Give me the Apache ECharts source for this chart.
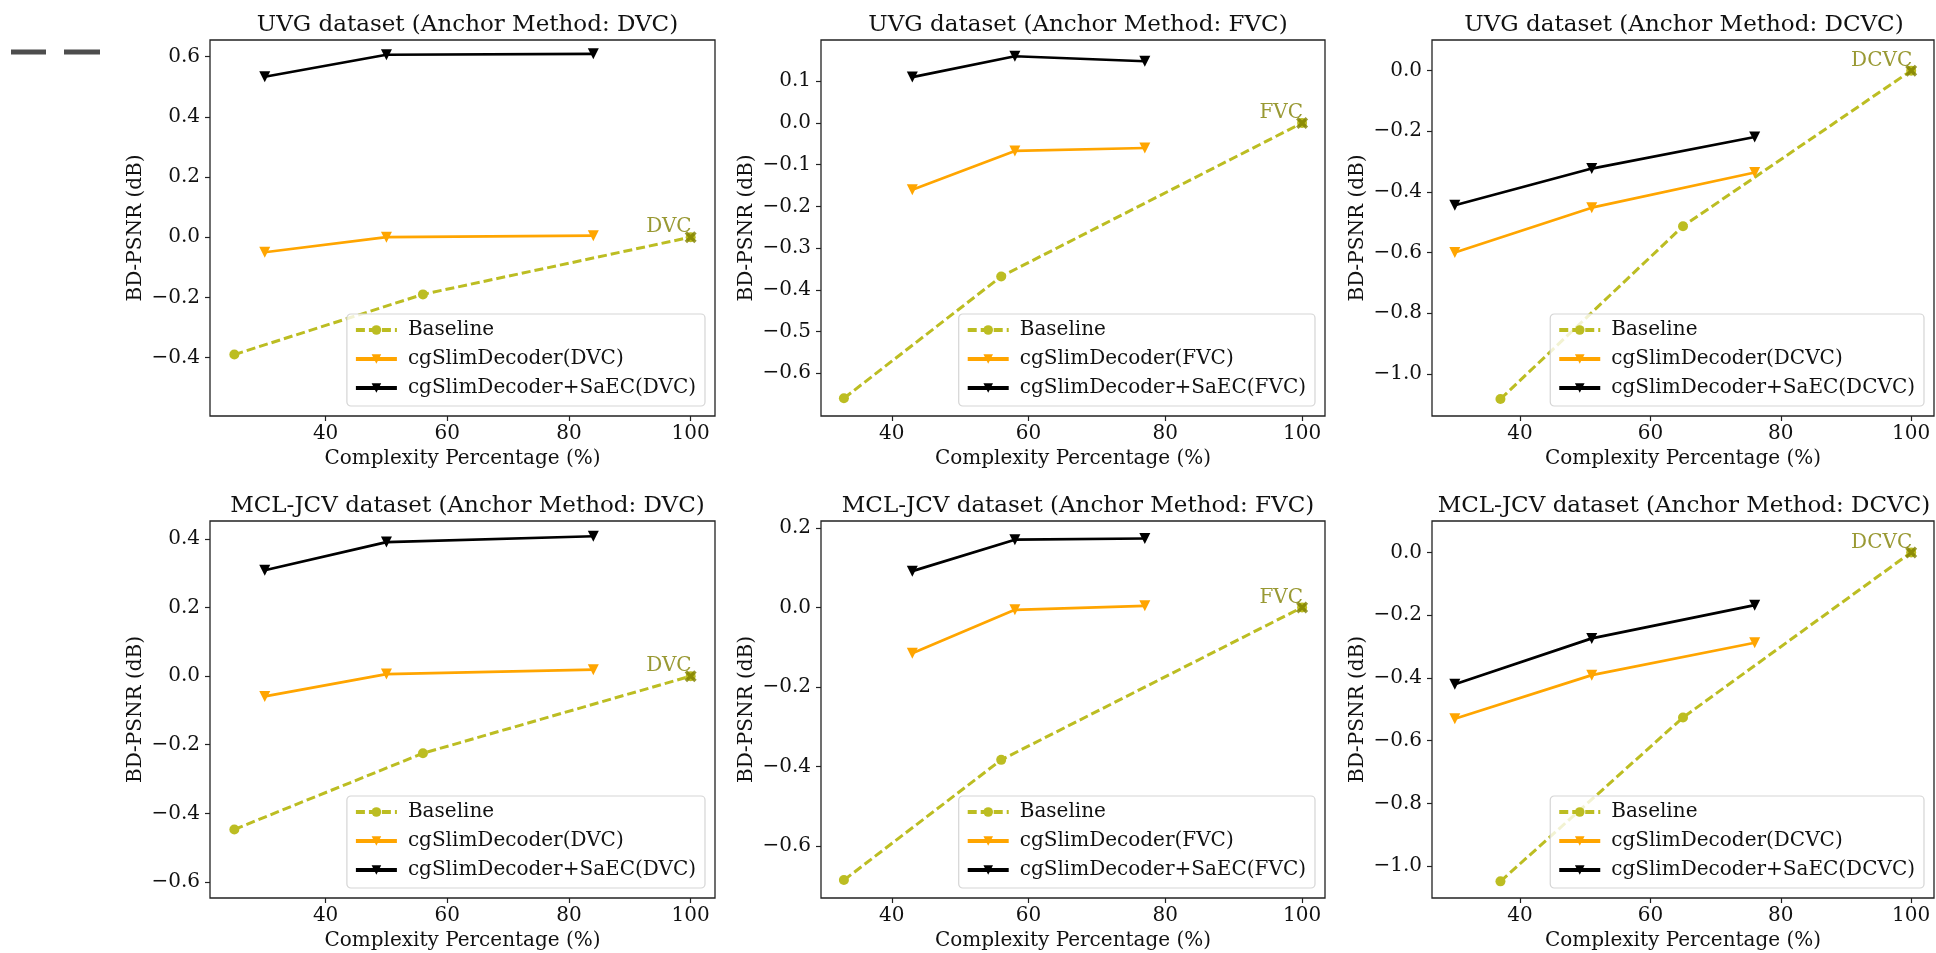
<!DOCTYPE html>
<html>
<head>
<meta charset="utf-8">
<script src="https://cdn.jsdelivr.net/npm/echarts@6/dist/echarts.min.js"></script>
<style>
  html, body { margin: 0; padding: 0; background: #fff; }
  #chart { width: 1936px; height: 953px; }
</style>
</head>
<body>
<div id="chart"></div>
<script>
// 数据：每个子图一组
const panelTitles = [
  "UVG dataset (Anchor Method: DVC)",
  "UVG dataset (Anchor Method: FVC)",
  "UVG dataset (Anchor Method: DCVC)",
  "MCL-JCV dataset (Anchor Method: DVC)",
  "MCL-JCV dataset (Anchor Method: FVC)",
  "MCL-JCV dataset (Anchor Method: DCVC)",
];
const anchorNames = ["DVC", "FVC", "DCVC", "DVC", "FVC", "DCVC"];
const baselineX = [[25, 56, 100], [33, 56, 100], [37, 65, 100], [25, 56, 100], [33, 56, 100], [37, 65, 100]];
const baselineY = [
  [-0.39, -0.19, 0],
  [-0.66, -0.368, 0],
  [-1.083, -0.513, 0],
  [-0.447, -0.225, 0],
  [-0.685, -0.383, 0],
  [-1.048, -0.526, 0],
];
const slimX = [[30, 50, 84], [43, 58, 77], [30, 51, 76], [30, 50, 84], [43, 58, 77], [30, 51, 76]];
const slimY = [
  [-0.05, 0.0, 0.005],
  [-0.16, -0.067, -0.06],
  [-0.6, -0.452, -0.336],
  [-0.059, 0.006, 0.019],
  [-0.115, -0.006, 0.004],
  [-0.53, -0.391, -0.288],
];
const saecY = [
  [0.533, 0.606, 0.609],
  [0.11, 0.16, 0.148],
  [-0.444, -0.323, -0.219],
  [0.309, 0.391, 0.408],
  [0.091, 0.17, 0.173],
  [-0.42, -0.274, -0.168],
];
const xTicks = [40, 60, 80, 100];
const yTicks = [
  [-0.4, -0.2, 0, 0.2, 0.4, 0.6],
  [-0.6, -0.5, -0.4, -0.3, -0.2, -0.1, 0, 0.1],
  [-1.0, -0.8, -0.6, -0.4, -0.2, 0],
  [-0.6, -0.4, -0.2, 0, 0.2, 0.4],
  [-0.6, -0.4, -0.2, 0, 0.2],
  [-1.0, -0.8, -0.6, -0.4, -0.2, 0],
];
const xRange = [[21, 104], [29.65, 103.35], [26.5, 103.5], [21, 104], [29.65, 103.35], [26.5, 103.5]];
const yRange = [[-0.594, 0.655], [-0.7025, 0.199], [-1.139, 0.101], [-0.647, 0.4525], [-0.73, 0.217], [-1.101, 0.1]];

// 布局
const W = 1936, H = 953;
const colLeft = [210, 821, 1432];
const colWidth = [505, 504, 502];
const rowTop = [40, 521];
const rowHeight = [376, 377];
const FONT = "DejaVu Serif";

const fmt = (v) => (v < 0 ? "\u2212" : "") + Math.abs(v).toFixed(1);
const xMark = "path://M0,2 L2,0 L5,3 L8,0 L10,2 L7,5 L10,8 L8,10 L5,7 L2,10 L0,8 L3,5 Z";

const myChart = echarts.init(document.getElementById("chart"));

const grids = [], xAxes = [], yAxes = [], titles = [], legends = [], series = [];
for (let i = 0; i < 6; i++) {
  const r = Math.floor(i / 3), c = i % 3;
  const left = colLeft[c], top = rowTop[r], w = colWidth[c], h = rowHeight[r];
  grids.push({
    left: left, top: top, width: w, height: h,
    show: true, borderColor: "#222", borderWidth: 1.3, backgroundColor: "transparent",
    containLabel: false, outerBoundsMode: "none",
  });
  titles.push({
    text: panelTitles[i],
    left: left + w / 2 - (c === 2 ? 4 : 0), textAlign: "center",
    top: top - 31,
    textStyle: { fontFamily: FONT, fontSize: 23, fontWeight: "normal", color: "#111" },
  });
  xAxes.push({
    gridIndex: i, type: "value",
    min: xRange[i][0], max: xRange[i][1],
    name: "Complexity Percentage (%)", nameLocation: "middle", nameGap: 33,
    nameTextStyle: { fontFamily: FONT, fontSize: 20, color: "#111" },
    axisLine: { show: false, onZero: false },
    splitLine: { show: false },
    axisTick: { show: true, length: 5, customValues: xTicks, lineStyle: { color: "#222", width: 1.2 } },
    axisLabel: { customValues: xTicks, margin: 8, fontFamily: FONT, fontSize: 20, color: "#111" },
  });
  yAxes.push({
    gridIndex: i, type: "value",
    min: yRange[i][0], max: yRange[i][1],
    name: "BD-PSNR (dB)", nameLocation: "middle", nameGap: 64,
    nameTextStyle: { fontFamily: FONT, fontSize: 20, color: "#111" },
    axisLine: { show: false, onZero: false },
    splitLine: { show: false },
    axisTick: { show: true, length: 5, customValues: yTicks[i], lineStyle: { color: "#222", width: 1.2 } },
    axisLabel: { customValues: yTicks[i], margin: 10, fontFamily: FONT, fontSize: 20, color: "#111", formatter: fmt },
  });

  const slimName = "cgSlimDecoder(" + anchorNames[i] + ")";
  const saecName = "cgSlimDecoder+SaEC(" + anchorNames[i] + ")";
  legends.push({
    data: ["Baseline", slimName, saecName],
    orient: "vertical",
    right: W - (left + w - 10),
    bottom: H - (top + h - 10),
    itemWidth: 41, itemHeight: 12, itemGap: 7,
    padding: [5, 9, 7, 7],
    backgroundColor: "rgba(255,255,255,0.8)",
    borderColor: "#d5d5d5", borderWidth: 1.2, borderRadius: 4,
    selectedMode: false,
    lineStyle: { width: 4 },
    textStyle: { fontFamily: FONT, fontSize: 20, color: "#111", lineHeight: 22, padding: [0, 0, 0, 6] },
  });

  series.push({
    name: "Baseline", type: "line", xAxisIndex: i, yAxisIndex: i,
    data: baselineX[i].map((x, k) => [x, baselineY[i][k]]),
    lineStyle: { color: "#bcbd22", width: 3, type: [9, 4] },
    itemStyle: { color: "#bcbd22" },
    symbol: "circle", symbolSize: 10, showAllSymbol: true,
    animation: false, z: 2,
  });
  series.push({
    name: slimName, type: "line", xAxisIndex: i, yAxisIndex: i,
    data: slimX[i].map((x, k) => [x, slimY[i][k]]),
    lineStyle: { color: "#ffa500", width: 2.7 },
    itemStyle: { color: "#ffa500" },
    symbol: "triangle", symbolRotate: 180, symbolSize: 11,
    animation: false, z: 3,
  });
  series.push({
    name: saecName, type: "line", xAxisIndex: i, yAxisIndex: i,
    data: slimX[i].map((x, k) => [x, saecY[i][k]]),
    lineStyle: { color: "#000", width: 2.7 },
    itemStyle: { color: "#000" },
    symbol: "triangle", symbolRotate: 180, symbolSize: 11,
    animation: false, z: 3,
  });
  // 锚点 (100, 0)
  series.push({
    name: "anchor-" + i, type: "scatter", xAxisIndex: i, yAxisIndex: i,
    data: [[baselineX[i][2], baselineY[i][2]]],
    symbol: xMark, symbolSize: 12,
    itemStyle: { color: "#808000" },
    label: {
      show: true, formatter: anchorNames[i],
      position: [7, 6], align: "right", verticalAlign: "bottom",
      fontFamily: FONT, fontSize: 20, color: "#808000",
    },
    animation: false, z: 5,
  });
}

const option = {
  backgroundColor: "#fff",
  animation: false,
  title: titles,
  grid: grids,
  xAxis: xAxes,
  yAxis: yAxes,
  legend: legends,
  series: series,
  graphic: [
    { type: "line", shape: { x1: 11, y1: 52, x2: 46, y2: 52 }, style: { stroke: "#4d4d4d", lineWidth: 5 } },
    { type: "line", shape: { x1: 64, y1: 52, x2: 100, y2: 52 }, style: { stroke: "#4d4d4d", lineWidth: 5 } },
  ],
};

myChart.setOption(option);
</script>
</body>
</html>
